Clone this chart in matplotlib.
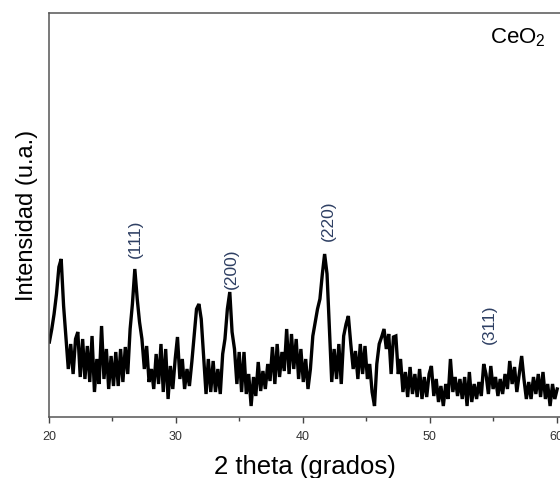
import matplotlib
matplotlib.use("Agg")
import matplotlib.pyplot as plt

plt.rcParams['font.family'] = ['Liberation Sans', 'DejaVu Sans']
plt.rcParams['mathtext.default'] = 'regular'

two_theta = [
    20.03, 20.22, 20.40, 20.59, 20.78, 20.96, 21.15, 21.34, 21.52, 21.71,
    21.90, 22.09, 22.27, 22.46, 22.65, 22.83, 23.02, 23.21, 23.39, 23.58,
    23.77, 23.95, 24.14, 24.33, 24.52, 24.70, 24.89, 25.08, 25.26, 25.45,
    25.64, 25.82, 26.01, 26.20, 26.39, 26.57, 26.76, 26.95, 27.13, 27.32,
    27.51, 27.69, 27.88, 28.07, 28.25, 28.44, 28.63, 28.82, 29.00, 29.19,
    29.38, 29.56, 29.75, 29.94, 30.12, 30.31, 30.50, 30.68, 30.87, 31.06,
    31.25, 31.43, 31.62, 31.81, 31.99, 32.18, 32.37, 32.55, 32.74, 32.93,
    33.11, 33.30, 33.49, 33.68, 33.86, 34.05, 34.24, 34.42, 34.61, 34.80,
    34.98, 35.17, 35.36, 35.54, 35.73, 35.92, 36.11, 36.29, 36.48, 36.67,
    36.85, 37.04, 37.23, 37.41, 37.60, 37.79, 37.97, 38.16, 38.35, 38.53,
    38.72, 38.91, 39.10, 39.28, 39.47, 39.66, 39.84, 40.03, 40.22, 40.40,
    40.59, 40.78, 40.97, 41.15, 41.34, 41.53, 41.71, 41.90, 42.09, 42.27,
    42.46, 42.65, 42.83, 43.02, 43.21, 43.40, 43.58, 43.77, 43.96, 44.14,
    44.33, 44.52, 44.70, 44.89, 45.08, 45.26, 45.45, 45.64, 45.82, 46.01,
    46.20, 46.39, 46.57, 46.76, 46.95, 47.13, 47.32, 47.51, 47.69, 47.88,
    48.07, 48.25, 48.44, 48.63, 48.82, 49.00, 49.19, 49.38, 49.56, 49.75,
    49.94, 50.12, 50.31, 50.50, 50.68, 50.87, 51.06, 51.25, 51.43, 51.62,
    51.81, 51.99, 52.18, 52.37, 52.55, 52.74, 52.93, 53.11, 53.30, 53.49,
    53.68, 53.86, 54.05, 54.24, 54.42, 54.61, 54.80, 54.98, 55.17, 55.36,
    55.54, 55.73, 55.92, 56.11, 56.29, 56.48, 56.67, 56.85, 57.04, 57.23,
    57.41, 57.60, 57.79, 57.97, 58.16, 58.35, 58.54, 58.72, 58.91, 59.10,
    59.28, 59.47, 59.66, 59.84, 60.03,
]

intensity = [
    75, 88, 103, 123, 150, 158, 111, 78, 48, 73,
    43, 78, 85, 40, 78, 38, 71, 35, 81, 25,
    58, 33, 91, 38, 68, 28, 61, 31, 65, 31,
    68, 35, 70, 43, 88, 113, 148, 118, 95, 78,
    48, 71, 35, 48, 28, 63, 33, 73, 25, 68,
    18, 51, 28, 58, 80, 38, 58, 28, 48, 31,
    55, 81, 108, 113, 98, 61, 23, 58, 25, 56,
    25, 48, 23, 63, 78, 108, 125, 85, 68, 33,
    65, 25, 65, 23, 43, 11, 40, 21, 55, 26,
    46, 28, 53, 36, 70, 33, 73, 40, 65, 46,
    88, 43, 83, 48, 78, 38, 68, 35, 58, 28,
    48, 81, 95, 108, 118, 143, 163, 143, 88, 35,
    68, 38, 73, 33, 81, 93, 101, 73, 48, 66,
    38, 73, 43, 71, 38, 53, 25, 11, 53, 73,
    80, 88, 68, 83, 43, 80, 81, 43, 58, 25,
    45, 20, 50, 23, 43, 20, 48, 18, 40, 20,
    43, 51, 21, 38, 15, 31, 11, 33, 18, 58,
    25, 40, 21, 38, 18, 40, 11, 45, 15, 33,
    18, 35, 21, 53, 43, 23, 51, 28, 40, 21,
    38, 23, 43, 28, 56, 33, 50, 25, 43, 61,
    38, 18, 35, 18, 40, 23, 43, 20, 45, 18,
    33, 11, 33, 18, 28,
]

peak_labels = ["(111)", "(200)", "(220)", "(311)"]
peak_label_x = [26.77, 34.4, 41.97, 54.7]
peak_label_y = [178, 148, 196, 93]

xticks = [20, 30, 40, 50, 60]

fig = plt.figure(figsize=(5.6, 4.78), dpi=100)
ax = fig.add_axes([49/560, 1 - 417/478, 1 - 49/560, (417 - 13)/478])

ax.plot(two_theta, intensity, color='black', lw=2.4, solid_joinstyle='miter')

for lab, lx, ly in zip(peak_labels, peak_label_x, peak_label_y):
    ax.text(lx, ly, lab, rotation=90, ha='center', va='center',
            fontsize=12.5, color='#2e3f63')

ax.set_xlim(20, 60.25)
ax.set_ylim(0, 404)
ax.set_xticks(xticks)
ax.set_xticks([25, 35, 45, 55], minor=True)
ax.set_yticks([])
ax.tick_params(axis='x', which='major', length=4, width=1, color='#444444',
               labelsize=9, labelcolor='#333333', pad=6)
ax.tick_params(axis='x', which='minor', length=3, width=1, color='#444444')

for s in ['left', 'top', 'bottom']:
    ax.spines[s].set_color('#555555')
    ax.spines[s].set_linewidth(1.1)
ax.spines['right'].set_visible(False)

ax.set_xlabel('2 theta (grados)', fontsize=18.5, labelpad=9)
ax.set_ylabel('Intensidad (u.a.)', fontsize=17, labelpad=8)

fig.text(490/560, 1 - 38/478, 'CeO$_2$', fontsize=16, ha='left', va='center')

fig.savefig('out.png', dpi=100)
